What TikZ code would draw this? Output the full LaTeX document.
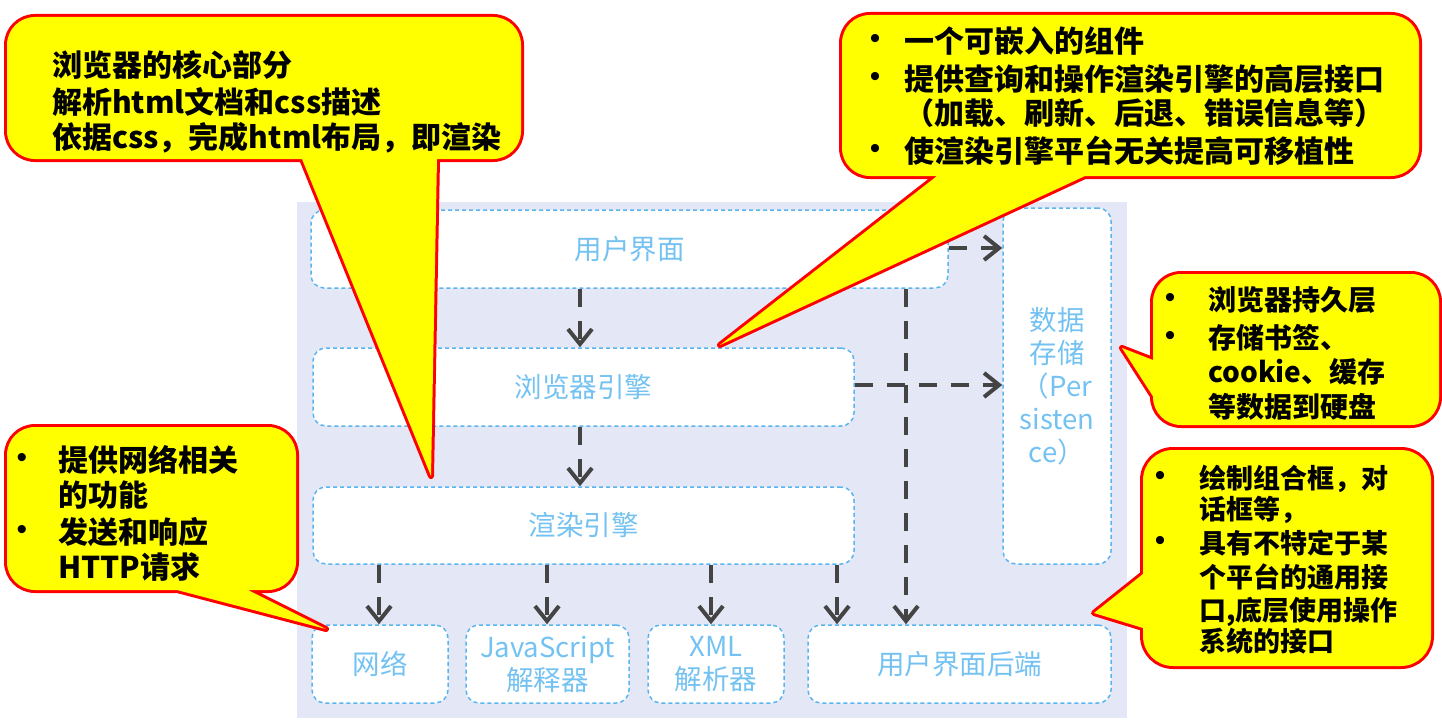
\documentclass[tikz,border=0pt]{standalone}
\usepackage{fontspec}
\setmainfont{Liberation Sans}
\newfontfamily\cjk{Noto Sans CJK SC}
\usetikzlibrary{arrows.meta}
\definecolor{panelbg}{HTML}{E4E8F6}
\definecolor{boxblue}{HTML}{5AB4F0}
\definecolor{txtblue}{HTML}{74C2F2}
\definecolor{arrgrey}{HTML}{444444}
\definecolor{calyellow}{HTML}{FFFF00}
\definecolor{calred}{HTML}{FF0000}
\begin{document}
\begin{tikzpicture}[x=1pt,y=-1pt,
  comp/.style={draw=boxblue, line width=1.5pt, dash pattern=on 4pt off 3pt, fill=white,
    rounded corners=13pt, text=txtblue, font=\cjk\fontsize{27.5}{33}\selectfont, align=center, inner sep=0pt},
  flow/.style={draw=arrgrey, line width=3.5pt, dash pattern=on 18pt off 14pt,
    -{Straight Barb[length=15pt,width=24pt,line width=4pt]}},
  callstroke/.style={draw=calred, line width=6pt, line join=round},
  callfill/.style={fill=calyellow},
  clA/.style={anchor=west, inner sep=0pt, text height=26.4pt, text depth=3.6pt, font=\cjk\bfseries\fontsize{30}{36}\selectfont},
  clB/.style={anchor=west, inner sep=0pt, text height=24.6pt, text depth=3.4pt, font=\cjk\bfseries\fontsize{28}{34}\selectfont},
  clC/.style={anchor=west, inner sep=0pt, text height=23.8pt, text depth=3.2pt, font=\cjk\bfseries\fontsize{27}{33}\selectfont},
  bul/.style={anchor=center, inner sep=0pt, font=\fontsize{30}{30}\selectfont},
]
\useasboundingbox (0,0) rectangle (1442,725);
\fill[white] (0,0) rectangle (1442,725);
% panel
\fill[panelbg] (297,202) rectangle (1127,718);

% components
\node[comp, minimum width=637pt, minimum height=78pt] (ui)  at (629.5,249) {用户界面};
\node[comp, minimum width=541pt, minimum height=78pt] (be)  at (583.5,387) {浏览器引擎};
\node[comp, minimum width=541pt, minimum height=77pt] (re)  at (583.5,525.5) {渲染引擎};
\node[comp, minimum width=108pt, minimum height=356pt] (ds) at (1057,386) {数据\\存储\\（Per\\sisten\\ce）};
\node[comp, minimum width=136pt, minimum height=78pt] (net) at (380,664) {网络};
\node[comp, minimum width=163pt, minimum height=78pt] (js)  at (547.5,664) {JavaScript\\解释器};
\node[comp, minimum width=136pt, minimum height=78pt] (xml) at (716,664) {XML\\解析器};
\node[comp, minimum width=303pt, minimum height=78pt] (uib) at (959.5,664) {用户界面后端};

% connectors
\draw[flow] (ui.south -| 580,0) -- (be.north -| 580,0);
\draw[flow] (be.south -| 580,0) -- (re.north -| 580,0);
\draw[flow] (ui.east |- 0,248) -- (ds.west |- 0,248);
\draw[flow] (be.east |- 0,385) -- (ds.west |- 0,385);
\draw[flow] (ui.south -| 906,0) -- (uib.north -| 906,0);
\draw[flow] (re.south -| 379,0) -- (net.north -| 379,0);
\draw[flow] (re.south -| 547,0) -- (js.north -| 547,0);
\draw[flow] (re.south -| 711,0) -- (xml.north -| 711,0);
\draw[flow] (re.south -| 837,0) -- (uib.north -| 837,0);

% callout 1 (top left)
\path[callstroke] [rounded corners=28pt] (7,17) rectangle (521,159) [sharp corners] (302,159) -- (431,476) -- (437,159);
\path[callfill] [rounded corners=28pt] (7,17) rectangle (521,159) [sharp corners] (302,159) -- (431,476) -- (437,159) -- cycle;
\node[clA] (c1a) at (52,65) {浏览器的核心部分};
\node[clA] (c1b) at (52,102) {解析html文档和css描述};
\node[clA] (c1c) at (52,137) {依据css，完成html布局，即渲染};

% callout 2 (top right)
\path[callstroke] [rounded corners=28pt] (842,15) rectangle (1419,176) [sharp corners] (937,176) -- (720,345) -- (1085,176);
\path[callfill] [rounded corners=28pt] (842,15) rectangle (1419,176) [sharp corners] (937,176) -- (720,345) -- (1085,176) -- cycle;
\node[bul] (c2b1) at (875,41) {•};
\node[clA] (c2a) at (904,41) {一个可嵌入的组件};
\node[bul] (c2b2) at (875,79) {•};
\node[clA] (c2b) at (904,79) {提供查询和操作渲染引擎的高层接口};
\node[clA] (c2c) at (904,113) {（加载、刷新、后退、错误信息等）};
\node[bul] (c2b3) at (875,151) {•};
\node[clA] (c2d) at (904,151) {使渲染引擎平台无关提高可移植性};

% callout 3 (right middle)
\path[callstroke] [rounded corners=28pt] (1153,274) rectangle (1439,425) [sharp corners] (1153,360) -- (1122,348) -- (1165,415);
\path[callfill] [rounded corners=28pt] (1153,274) rectangle (1439,425) [sharp corners] (1153,360) -- (1122,348) -- (1165,415) -- cycle;
\node[bul] (c3b1) at (1170,300) {•};
\node[clB] (c3a) at (1208,300) {浏览器持久层};
\node[bul] (c3b2) at (1170,338) {•};
\node[clB] (c3b) at (1208,338) {存储书签、};
\node[clB] (c3c) at (1208,372) {cookie、缓存};
\node[clB] (c3d) at (1208,407) {等数据到硬盘};

% callout 4 (right bottom)
\path[callstroke] [rounded corners=30pt] (1143,450) rectangle (1431,666) [sharp corners] (1143,574) -- (1094,613) -- (1143,628);
\path[callfill] [rounded corners=30pt] (1143,450) rectangle (1431,666) [sharp corners] (1143,574) -- (1094,613) -- (1143,628) -- cycle;
\node[bul] (c4b1) at (1160,478) {•};
\node[clC] (c4a) at (1199,478) {绘制组合框，对};
\node[clC] (c4b) at (1199,509) {话框等，};
\node[bul] (c4b2) at (1160,543) {•};
\node[clC] (c4c) at (1199,543) {具有不特定于某};
\node[clC] (c4d) at (1199,577) {个平台的通用接};
\node[clC] (c4e) at (1199,610) {口,底层使用操作};
\node[clC] (c4f) at (1199,641) {系统的接口};

% callout 5 (left bottom)
\path[callstroke] [rounded corners=28pt] (7,427) rectangle (296,590) [sharp corners] (177,590) -- (326,629) -- (248,590);
\path[callfill] [rounded corners=28pt] (7,427) rectangle (296,590) [sharp corners] (177,590) -- (326,629) -- (248,590) -- cycle;
\node[bul] (c5b1) at (22,460) {•};
\node[clA] (c5a) at (58,460) {提供网络相关};
\node[clA] (c5b) at (58,495) {的功能};
\node[bul] (c5b2) at (22,532) {•};
\node[clA] (c5c) at (58,532) {发送和响应};
\node[clA] (c5d) at (58,567) {HTTP请求};
\end{tikzpicture}
\end{document}
